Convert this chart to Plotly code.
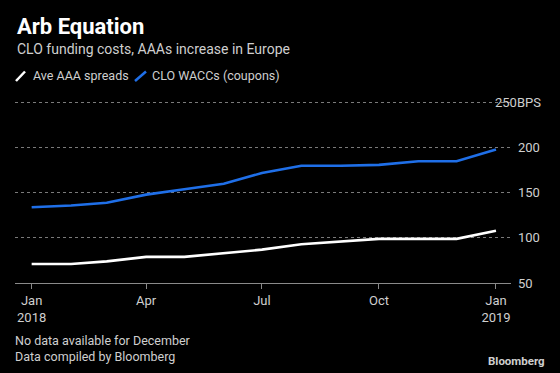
import plotly.graph_objects as go

# ---- data ----
dates = ["2018-01-01", "2018-02-01", "2018-03-01", "2018-04-01", "2018-05-01",
         "2018-06-01", "2018-07-01", "2018-08-01", "2018-09-01", "2018-10-01",
         "2018-11-01", "2018-12-01", "2019-01-01"]
ave_aaa_spreads = [71, 71, 74, 79, 79, 83, 87, 93, 96, 99, 99, 99, 108]
clo_waccs = [134, 136, 139, 148, 154, 160, 172, 180, 180, 181, 185, 185, 198]

series_names = ["Ave AAA spreads", "CLO WACCs (coupons)"]
x_tickvals = ["2018-01-01", "2018-04-01", "2018-07-01", "2018-10-01", "2019-01-01"]
x_ticktext = ["Jan<br>2018", "Apr", "Jul", "Oct", "Jan<br>2019"]
y_tickvals = [50, 100, 150, 200, 250]
y_ticktext = ["50", "100", "150", "200", ""]
top_label = "250BPS"

FONT = "Roboto"
WHITE = "#ffffff"
BLUE = "#1f6fe8"
LABEL = "#cfcfcf"

W, H = 560, 373
ML, MR, MT, MB = 15, 21, 90, 90
plot_w = W - ML - MR          # 524
plot_h = H - MT - MB          # 193
Y_TOP_VAL = 50 + 200 * plot_h / (283 - 102.7)   # value at top edge of plot area

def px_y(py):
    return (H - MB - py) / plot_h

def px_x(px):
    return (px - ML) / plot_w

fig = go.Figure()

fig.add_trace(go.Scatter(x=dates, y=ave_aaa_spreads, mode="lines", yaxis="y2",
                         name=series_names[0],
                         line=dict(color=WHITE, width=2.6), showlegend=False,
                         hoverinfo="skip"))
fig.add_trace(go.Scatter(x=dates, y=clo_waccs, mode="lines", yaxis="y",
                         name=series_names[1],
                         line=dict(color=BLUE, width=2.6), showlegend=False,
                         hoverinfo="skip"))

fig.update_layout(
    width=W, height=H,
    margin=dict(l=ML, r=MR, t=MT, b=MB, pad=0, autoexpand=False),
    paper_bgcolor="#000000", plot_bgcolor="rgba(0,0,0,0)",
    font=dict(family=FONT, color=LABEL, size=13),
    showlegend=False,
    xaxis=dict(type="date", domain=[0, (511 - ML) / plot_w],
               range=["2017-12-18 21:36", "2019-01-12 19:12"],
               tickvals=x_tickvals, ticktext=x_ticktext,
               ticks="outside", ticklen=5, tickcolor="#8a8a8a", tickwidth=1,
               showline=True, linecolor="#8a8a8a", linewidth=1,
               showgrid=False, zeroline=False, ticklabeloverflow="allow",
               tickfont=dict(family=FONT, size=13, color=LABEL)),
    yaxis=dict(range=[50, Y_TOP_VAL], side="right", anchor="x",
               tickvals=y_tickvals, ticktext=y_ticktext,
               showgrid=True, gridcolor="#7a7a7a", griddash="dot", gridwidth=1,
               zeroline=False, ticks="", showline=False,
               ticklabelstandoff=6,
               tickfont=dict(family=FONT, size=13, color=LABEL)),
    yaxis2=dict(range=[50, Y_TOP_VAL], overlaying="y", anchor="free",
                position=px_x(494), side="right",
                tickvals=[250], ticktext=[top_label],
                ticks="", showgrid=False, zeroline=False, showline=False,
                ticklabelstandoff=0,
                tickfont=dict(family=FONT, size=13, color=LABEL)),
)

# legend (slanted line icons + labels)
legend_icons = [(16, 25), (135, 146)]
legend_text_x = [31, 150]
shapes = []
annotations = []
for (x0, x1), tx, name, col in zip(legend_icons, legend_text_x, series_names, [WHITE, BLUE]):
    shapes.append(dict(type="line", xref="paper", yref="paper",
                       x0=px_x(x0), y0=px_y(81), x1=px_x(x1), y1=px_y(71.5),
                       line=dict(color=col, width=2.5)))
    annotations.append(dict(text=name, x=px_x(tx), y=px_y(75.5), xanchor="left",
                            yanchor="middle",
                            font=dict(family=FONT, size=12.5, color=LABEL)))

# gap in the top gridline behind its label (above grid, below labels)
shapes.append(dict(type="rect", xref="paper", yref="paper", layer="between",
                   x0=px_x(489), x1=px_x(512), y0=px_y(105), y1=px_y(100.5),
                   fillcolor="#000000", line=dict(width=0)))

annotations += [
    dict(text="<b>Arb Equation</b>", x=px_x(15), y=px_y(26.5), xanchor="left",
         yanchor="middle", font=dict(family=FONT, size=22, color=WHITE)),
    dict(text="CLO funding costs, AAAs increase in Europe", x=px_x(15), y=px_y(49),
         xanchor="left", yanchor="middle",
         font=dict(family=FONT, size=14, color=LABEL)),
    dict(text="No data available for December<br>Data compiled by Bloomberg",
         x=px_x(13), y=px_y(348.5), xanchor="left", yanchor="middle", align="left",
         font=dict(family=FONT, size=12.5, color=LABEL)),
    dict(text="<b>Bloomberg</b>", x=px_x(547), y=px_y(361), xanchor="right",
         yanchor="middle", font=dict(family=FONT, size=11.5, color=LABEL)),
]
for a in annotations:
    a.update(xref="paper", yref="paper", showarrow=False)
fig.update_layout(annotations=annotations, shapes=shapes)

fig.write_html("out.html", config={"displayModeBar": False},
               post_script="document.body.style.margin='0';document.body.style.padding='0';")
